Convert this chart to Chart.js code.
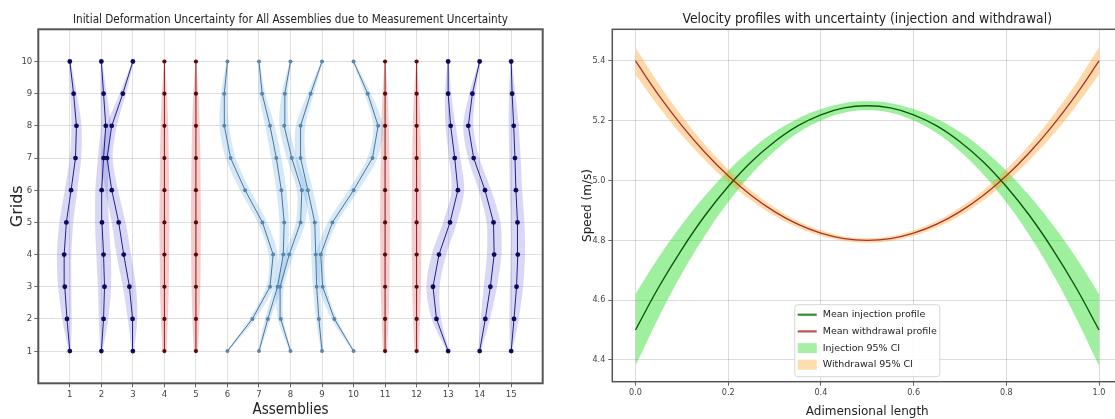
<!DOCTYPE html>
<html lang="en">
<head>
<meta charset="UTF-8">
<title>Deformation and velocity uncertainty</title>
<script src="https://cdn.jsdelivr.net/npm/chart.js"></script>
<style>
    body {
        margin: 0;
        background: #ffffff;
        overflow: hidden;
        width: 1115px;
        height: 419px;
        position: relative;
    }
    .panel {
        position: absolute;
        top: 0;
        height: 419px;
    }
    #left { left: 0; width: 560px; }
    #right { left: 560px; width: 580px; }
</style>
</head>
<body>

<div class="panel" id="left"><canvas id="defChart" width="560" height="419"></canvas></div>
<div class="panel" id="right"><canvas id="velChart" width="580" height="419"></canvas></div>

<script>
// ---------- left panel: x position of each assembly at grids 1..10 ----------
const grids = [1, 2, 3, 4, 5, 6, 7, 8, 9, 10];
const assemblyTicks = [1, 2, 3, 4, 5, 6, 7, 8, 9, 10, 11, 12, 13, 14, 15];

const asm1  = [1.00, 0.91, 0.84, 0.82, 0.89, 1.04, 1.18, 1.21, 1.12, 1.00];
const asm2  = [2.00, 2.07, 2.10, 2.07, 2.02, 2.01, 2.07, 2.14, 2.07, 2.00];
const asm3  = [3.00, 2.99, 2.89, 2.71, 2.55, 2.33, 2.18, 2.33, 2.68, 3.00];
const asm4  = [4, 4, 4, 4, 4, 4, 4, 4, 4, 4];
const asm5  = [5, 5, 5, 5, 5, 5, 5, 5, 5, 5];
const asm6  = [6.00, 6.79, 7.35, 7.45, 7.11, 6.56, 6.10, 5.90, 5.90, 6.00];
const asm7  = [7.00, 7.28, 7.59, 7.77, 7.80, 7.71, 7.55, 7.35, 7.10, 7.00];
const asm8  = [8.00, 7.69, 7.67, 7.96, 8.32, 8.36, 8.04, 7.80, 7.82, 8.00];
const asm9  = [9.00, 8.90, 8.83, 8.80, 8.77, 8.55, 8.32, 8.32, 8.64, 9.00];
const asm10 = [10.00, 9.39, 9.02, 8.96, 9.33, 10.00, 10.60, 10.78, 10.45, 10.00];
const asm11 = [11, 11, 11, 11, 11, 11, 11, 11, 11, 11];
const asm12 = [12, 12, 12, 12, 12, 12, 12, 12, 12, 12];
const asm13 = [13.00, 12.63, 12.52, 12.71, 13.06, 13.31, 13.21, 13.08, 13.00, 13.00];
const asm14 = [14.00, 14.18, 14.34, 14.46, 14.44, 14.17, 13.81, 13.64, 13.77, 14.00];
const asm15 = [15.00, 15.09, 15.17, 15.21, 15.20, 15.15, 15.12, 15.08, 15.03, 15.00];

// group of each assembly (blue / red / light)
const assemblyGroup = ['blue', 'blue', 'blue', 'red', 'red', 'light', 'light', 'light', 'light', 'light', 'red', 'red', 'blue', 'blue', 'blue'];

// half width of the uncertainty band at grids 1..10, per group
const blueUnc  = [0.04, 0.15, 0.21, 0.23, 0.22, 0.20, 0.18, 0.16, 0.10, 0.02];
const redUnc   = [0.07, 0.11, 0.14, 0.15, 0.16, 0.15, 0.14, 0.12, 0.08, 0.01];
const lightUnc = [0.03, 0.09, 0.12, 0.14, 0.15, 0.16, 0.16, 0.15, 0.10, 0.02];

// ---------- right panel: velocity profiles ----------
const lengthPts = [0, 0.05, 0.1, 0.15, 0.2, 0.25, 0.3, 0.35, 0.4, 0.45, 0.5, 0.55, 0.6, 0.65, 0.7, 0.75, 0.8, 0.85, 0.9, 0.95, 1.0];
const injMean = [4.500, 4.643, 4.770, 4.883, 4.980, 5.063, 5.130, 5.183, 5.220, 5.243, 5.250, 5.243, 5.220, 5.183, 5.130, 5.063, 4.980, 4.883, 4.770, 4.643, 4.500];
const injLow  = [4.380, 4.542, 4.688, 4.816, 4.927, 5.021, 5.098, 5.159, 5.201, 5.227, 5.235, 5.227, 5.201, 5.159, 5.098, 5.021, 4.927, 4.816, 4.688, 4.542, 4.380];
const injHigh = [4.620, 4.743, 4.852, 4.949, 5.033, 5.104, 5.162, 5.207, 5.239, 5.259, 5.265, 5.259, 5.239, 5.207, 5.162, 5.104, 5.033, 4.949, 4.852, 4.743, 4.620];
const wdMean  = [5.400, 5.286, 5.184, 5.094, 5.016, 4.950, 4.896, 4.854, 4.824, 4.806, 4.800, 4.806, 4.824, 4.854, 4.896, 4.950, 5.016, 5.094, 5.184, 5.286, 5.400];
const wdLow   = [5.355, 5.248, 5.152, 5.068, 4.995, 4.933, 4.882, 4.843, 4.815, 4.798, 4.792, 4.798, 4.815, 4.843, 4.882, 4.933, 4.995, 5.068, 5.152, 5.248, 5.355];
const wdHigh  = [5.446, 5.324, 5.216, 5.120, 5.038, 4.967, 4.910, 4.865, 4.834, 4.814, 4.808, 4.814, 4.834, 4.865, 4.910, 4.967, 5.038, 5.120, 5.216, 5.324, 5.446];
const lengthTicks = [0, 0.2, 0.4, 0.6, 0.8, 1.0];
const speedTicks = [4.4, 4.6, 4.8, 5.0, 5.2, 5.4];

const narrow = "'DejaVu Sans Condensed', 'DejaVu Sans', sans-serif";
const plain = "'DejaVu Sans', sans-serif";

// box around the plot area
const framePlugin = {
    id: 'frame',
    afterDatasetsDraw(chart, args, opts) {
        const a = chart.chartArea;
        const ctx = chart.ctx;
        ctx.save();
        ctx.strokeStyle = opts.color;
        ctx.lineWidth = opts.width;
        ctx.strokeRect(a.left, a.top, a.right - a.left, a.bottom - a.top);
        ctx.restore();
    }
};

// title centred over the plot area (as matplotlib does), squeezed like the source image
const areaTitle = {
    id: 'areaTitle',
    afterDraw(chart, args, opts) {
        const a = chart.chartArea;
        const ctx = chart.ctx;
        ctx.save();
        ctx.translate((a.left + a.right) / 2, opts.y);
        ctx.scale(opts.squeeze, 1);
        ctx.font = opts.size + 'px ' + narrow;
        ctx.fillStyle = '#222';
        ctx.textAlign = 'center';
        ctx.textBaseline = 'middle';
        ctx.fillText(opts.text, 0, 0);
        ctx.restore();
    }
};

// matplotlib-like legend, lower centre inside the plot
const boxLegend = {
    id: 'boxLegend',
    afterDraw(chart) {
        const ctx = chart.ctx;
        const a = chart.chartArea;
        const items = chart.data.datasets.filter(d => d.legendKind);
        const w = 145, h = 72, rowH = 16.7;
        const x0 = (a.left + a.right) / 2 - w / 2;
        const y0 = a.bottom - 5 - h;
        ctx.save();
        ctx.fillStyle = 'rgba(255,255,255,0.85)';
        ctx.strokeStyle = '#d6d6d6';
        ctx.lineWidth = 1;
        ctx.beginPath();
        ctx.roundRect(x0, y0, w, h, 3);
        ctx.fill();
        ctx.stroke();
        ctx.font = '9.5px ' + plain;
        ctx.textBaseline = 'middle';
        items.forEach((d, i) => {
            const cy = y0 + 10 + i * rowH;
            if (d.legendKind === 'line') {
                ctx.strokeStyle = d.legendColor;
                ctx.lineWidth = 2.2;
                ctx.beginPath();
                ctx.moveTo(x0 + 3, cy);
                ctx.lineTo(x0 + 22, cy);
                ctx.stroke();
            } else {
                ctx.fillStyle = d.legendColor;
                ctx.fillRect(x0 + 3, cy - 5, 19, 10);
            }
            ctx.fillStyle = '#222';
            ctx.fillText(d.label, x0 + 28, cy);
        });
        ctx.restore();
    }
};

// ---------- left chart ----------
const groupStyle = {
    blue:  { line: '#1f1f8f', point: '#0b0b5e', band: 'rgba(90,90,215,0.24)', unc: blueUnc, r: 2.4 },
    red:   { line: '#8a1c1c', point: '#5a0a0a', band: 'rgba(220,70,70,0.27)', unc: redUnc, r: 2.1 },
    light: { line: '#4f7496', point: '#5a86ad', band: 'rgba(90,165,225,0.26)', unc: lightUnc, r: 2.0 }
};

const assemblies = [asm1, asm2, asm3, asm4, asm5, asm6, asm7, asm8, asm9, asm10, asm11, asm12, asm13, asm14, asm15];
const defSets = [];
assemblies.forEach((xs, i) => {
    const g = groupStyle[assemblyGroup[i]];
    defSets.push({
        data: xs.map((x, k) => ({ x: x, y: grids[k] })),
        showLine: true,
        borderColor: g.line,
        borderWidth: 1,
        pointRadius: g.r,
        pointBackgroundColor: g.point,
        pointBorderWidth: 0,
        order: 0
    });
    const leftEdge = xs.map((x, k) => ({ x: x - g.unc[k], y: grids[k] }));
    const rightEdge = xs.map((x, k) => ({ x: x + g.unc[k], y: grids[k] })).reverse();
    defSets.push({
        data: leftEdge.concat(rightEdge),
        showLine: true,
        fill: 'shape',
        backgroundColor: g.band,
        borderColor: 'rgba(0,0,0,0)',
        borderWidth: 0,
        pointRadius: 0,
        tension: 0.3,
        order: 1
    });
});

new Chart(document.getElementById('defChart'), {
    type: 'scatter',
    data: { datasets: defSets },
    plugins: [framePlugin, areaTitle],
    options: {
        responsive: false,
        animation: false,
        layout: { padding: { left: 0, right: 17.3, top: 29.3, bottom: 0 } },
        plugins: {
            legend: { display: false },
            tooltip: { enabled: false },
            frame: { color: '#555', width: 2 },
            areaTitle: {
                text: 'Initial Deformation Uncertainty for All Assemblies due to Measurement Uncertainty',
                size: 13,
                squeeze: 0.895,
                y: 20
            }
        },
        scales: {
            x: {
                type: 'linear',
                min: 0,
                max: 16,
                afterBuildTicks: s => { s.ticks = assemblyTicks.map(v => ({ value: v })); },
                afterFit: s => { s.height = 35.7; },
                ticks: { color: '#444', font: { family: narrow, size: 9.5 }, autoSkip: false, maxRotation: 0, padding: 2 },
                grid: { color: 'rgba(0,0,0,0.12)', tickLength: 4, tickColor: '#666' },
                border: { display: false },
                title: { display: true, text: 'Assemblies', color: '#222', font: { family: narrow, size: 15 }, padding: { top: 0, bottom: 0 } }
            },
            y: {
                type: 'linear',
                min: 0,
                max: 11,
                afterBuildTicks: s => { s.ticks = grids.map(v => ({ value: v })); },
                afterFit: s => { s.width = 38.3; },
                ticks: { color: '#444', font: { family: narrow, size: 9.5 }, padding: 2 },
                grid: { color: 'rgba(0,0,0,0.12)', tickLength: 4, tickColor: '#666' },
                border: { display: false },
                title: { display: true, text: 'Grids', color: '#222', font: { family: plain, size: 16 }, padding: { top: 8, bottom: 0 } }
            }
        }
    }
});

// ---------- right chart ----------
const asPoints = ys => lengthPts.map((x, i) => ({ x: x, y: ys[i] }));

new Chart(document.getElementById('velChart'), {
    type: 'line',
    data: {
        datasets: [
            {
                label: 'Mean injection profile',
                data: asPoints(injMean),
                borderColor: '#0a5a0a',
                borderWidth: 1.4,
                pointRadius: 0,
                tension: 0.4,
                order: 0,
                legendKind: 'line',
                legendColor: '#2f8f2f'
            },
            {
                label: 'Mean withdrawal profile',
                data: asPoints(wdMean),
                borderColor: '#a8322b',
                borderWidth: 1.3,
                pointRadius: 0,
                tension: 0.4,
                order: 0,
                legendKind: 'line',
                legendColor: '#c0504a'
            },
            {
                label: 'injection lower',
                data: asPoints(injLow),
                borderColor: 'rgba(0,0,0,0)',
                pointRadius: 0,
                tension: 0.4,
                order: 2
            },
            {
                label: 'Injection 95% CI',
                data: asPoints(injHigh),
                borderColor: 'rgba(0,0,0,0)',
                backgroundColor: 'rgba(40,220,40,0.45)',
                fill: '-1',
                pointRadius: 0,
                tension: 0.4,
                order: 2,
                legendKind: 'patch',
                legendColor: 'rgba(40,220,40,0.42)'
            },
            {
                label: 'withdrawal lower',
                data: asPoints(wdLow),
                borderColor: 'rgba(0,0,0,0)',
                pointRadius: 0,
                tension: 0.4,
                order: 1
            },
            {
                label: 'Withdrawal 95% CI',
                data: asPoints(wdHigh),
                borderColor: 'rgba(0,0,0,0)',
                backgroundColor: 'rgba(255,160,40,0.40)',
                fill: '-1',
                pointRadius: 0,
                tension: 0.4,
                order: 1,
                legendKind: 'patch',
                legendColor: 'rgba(255,165,40,0.38)'
            }
        ]
    },
    plugins: [framePlugin, areaTitle, boxLegend],
    options: {
        responsive: false,
        animation: false,
        layout: { padding: { left: 0, right: 17.8, top: 29.3, bottom: 0 } },
        plugins: {
            legend: { display: false },
            tooltip: { enabled: false },
            frame: { color: '#555', width: 1.5 },
            areaTitle: {
                text: 'Velocity profiles with uncertainty (injection and withdrawal)',
                size: 14,
                squeeze: 0.985,
                y: 19
            }
        },
        scales: {
            x: {
                type: 'linear',
                min: -0.05,
                max: 1.05,
                afterBuildTicks: s => { s.ticks = lengthTicks.map(v => ({ value: v })); },
                afterFit: s => { s.height = 37.3; },
                ticks: { color: '#444', font: { family: narrow, size: 9 }, maxRotation: 0, padding: 2, callback: v => v.toFixed(1) },
                grid: { color: 'rgba(0,0,0,0.14)', tickLength: 4, tickColor: '#666' },
                border: { display: false },
                title: { display: true, text: 'Adimensional length', color: '#222', font: { family: plain, size: 12 }, padding: { top: 5, bottom: 0 } }
            },
            y: {
                type: 'linear',
                min: 4.327,
                max: 5.506,
                afterBuildTicks: s => { s.ticks = speedTicks.map(v => ({ value: v })); },
                afterFit: s => { s.width = 52.3; },
                ticks: { color: '#444', font: { family: narrow, size: 9 }, padding: 3, callback: v => v.toFixed(1) },
                grid: { color: 'rgba(0,0,0,0.14)', tickLength: 4, tickColor: '#666' },
                border: { display: false },
                title: { display: true, text: 'Speed (m/s)', color: '#222', font: { family: plain, size: 12 }, padding: { top: 21, bottom: 0 } }
            }
        }
    }
});
</script>

</body>
</html>
